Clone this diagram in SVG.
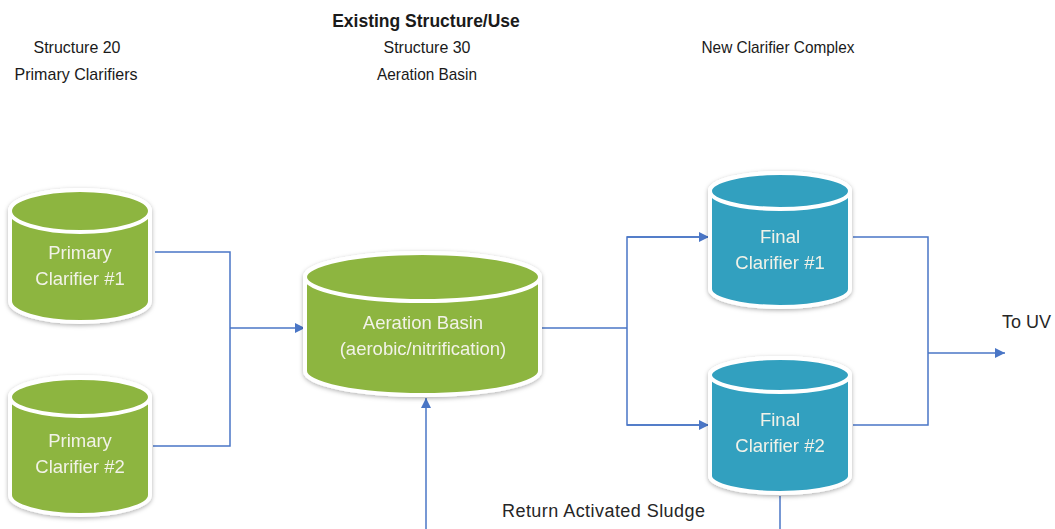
<svg xmlns="http://www.w3.org/2000/svg" width="1055" height="529" viewBox="0 0 1055 529">
<style>
.hdr{font-family:"Liberation Sans Narrow","Liberation Sans",Arial,sans-serif;font-size:17px;fill:#1a1a1a;text-anchor:middle}
.bold{font-family:"Liberation Sans",Arial,sans-serif;font-size:17.5px;font-weight:bold;fill:#1a1a1a;text-anchor:middle}
.lbl{font-family:"Liberation Sans",Arial,sans-serif;font-size:18.5px;fill:#f2f2e8;text-anchor:middle}
.txt{font-family:"Liberation Sans",Arial,sans-serif;font-size:18px;fill:#262626}
.green{fill:#8db53f;stroke:#ffffff;stroke-width:4}
.teal{fill:#33a0bf;stroke:#ffffff;stroke-width:4}
.conn{fill:none;stroke:#4a76c6;stroke-width:1.5}
</style>
<defs>
<filter id="sh" x="-20%" y="-20%" width="140%" height="140%">
<feDropShadow dx="0" dy="1.5" stdDeviation="2" flood-color="#000" flood-opacity="0.3"/>
</filter>
<marker id="arr" viewBox="0 0 10 10" refX="10" refY="5" markerWidth="10" markerHeight="10" markerUnits="userSpaceOnUse" orient="auto">
<path d="M0,0 L10,5 L0,10 z" fill="#4a76c6"/>
</marker>
</defs>
<rect width="1055" height="529" fill="#ffffff"/>

<g id="headers">
<text class="bold" x="426" y="27">Existing Structure/Use</text>
<text class="hdr" x="77" y="53" textLength="87" lengthAdjust="spacingAndGlyphs">Structure 20</text>
<text class="hdr" x="76" y="80" textLength="123" lengthAdjust="spacingAndGlyphs">Primary Clarifiers</text>
<text class="hdr" x="427" y="53" textLength="87" lengthAdjust="spacingAndGlyphs">Structure 30</text>
<text class="hdr" x="427" y="80" textLength="100" lengthAdjust="spacingAndGlyphs">Aeration Basin</text>
<text class="hdr" x="778" y="53" textLength="153" lengthAdjust="spacingAndGlyphs">New Clarifier Complex</text>
</g>

<g id="connectors">
<polyline class="conn" points="155,252 230,252 230,446 153,446"/>
<line class="conn" x1="230" y1="328" x2="305" y2="328" marker-end="url(#arr)"/>
<line class="conn" x1="541" y1="328" x2="627" y2="328"/>
<polyline class="conn" points="710,237 627,237 627,425 710,425" />
<line class="conn" x1="627" y1="237" x2="709" y2="237" marker-end="url(#arr)"/>
<line class="conn" x1="627" y1="425" x2="709" y2="425" marker-end="url(#arr)"/>
<polyline class="conn" points="853,237 928,237 928,425 853,425"/>
<line class="conn" x1="928" y1="353" x2="1005" y2="353" marker-end="url(#arr)"/>
<line class="conn" x1="780" y1="496" x2="780" y2="529"/>
<line class="conn" x1="426" y1="529" x2="426" y2="398" marker-end="url(#arr)"/>
</g>

<g id="pc1" filter="url(#sh)">
<path class="green" d="M10,211 L10,301 A70,21 0 0 0 150,301 L150,211 A70,21 0 0 0 10,211 Z"/>
<ellipse class="green" cx="80" cy="211" rx="70" ry="21"/>
<text class="lbl" x="80" y="259">Primary</text>
<text class="lbl" x="80" y="285">Clarifier #1</text>
</g>

<g id="pc2" filter="url(#sh)">
<path class="green" d="M10,397 L10,495 A70,20 0 0 0 150,495 L150,397 A70,20 0 0 0 10,397 Z"/>
<ellipse class="green" cx="80" cy="397" rx="70" ry="19"/>
<text class="lbl" x="80" y="447">Primary</text>
<text class="lbl" x="80" y="473">Clarifier #2</text>
</g>

<g id="aeration" filter="url(#sh)">
<path class="green" d="M305,277 L305,371 A117.5,24 0 0 0 540,371 L540,277 A117.5,24 0 0 0 305,277 Z"/>
<ellipse class="green" cx="422.5" cy="277" rx="117.5" ry="24"/>
<text class="lbl" x="423" y="329">Aeration Basin</text>
<text class="lbl" x="423" y="355">(aerobic/nitrification)</text>
</g>

<g id="fc1" filter="url(#sh)">
<path class="teal" d="M710,191 L710,289 A70,18 0 0 0 850,289 L850,191 A70,18 0 0 0 710,191 Z"/>
<ellipse class="teal" cx="780" cy="191" rx="70" ry="18"/>
<text class="lbl" x="780" y="243">Final</text>
<text class="lbl" x="780" y="269">Clarifier #1</text>
</g>

<g id="fc2" filter="url(#sh)">
<path class="teal" d="M710,375 L710,476 A70,17 0 0 0 850,476 L850,375 A70,17 0 0 0 710,375 Z"/>
<ellipse class="teal" cx="780" cy="375" rx="70" ry="17"/>
<text class="lbl" x="780" y="426">Final</text>
<text class="lbl" x="780" y="452">Clarifier #2</text>
</g>

<g id="labels">
<text class="txt" x="1002" y="328">To UV</text>
<text class="txt" x="502" y="517" textLength="203">Return Activated Sludge</text>
</g>
</svg>
